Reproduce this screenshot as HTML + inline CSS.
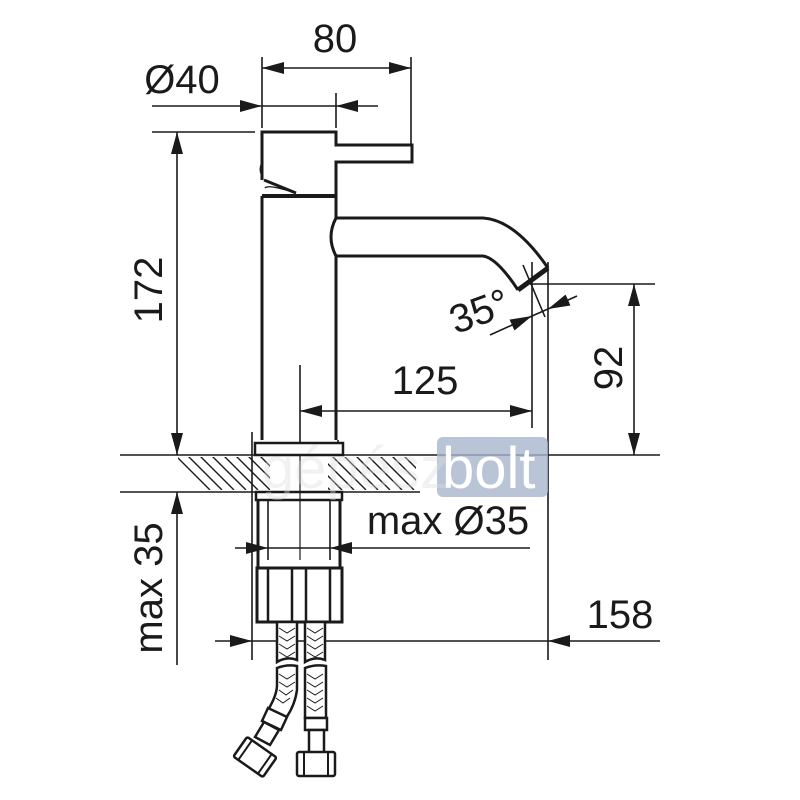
<!DOCTYPE html>
<html><head><meta charset="utf-8"><style>
html,body{margin:0;padding:0;background:#fff}
svg{display:block}
text{font-family:"Liberation Sans",sans-serif;fill:#1a1a1a}
</style></head><body>
<svg width="800" height="800" viewBox="0 0 800 800" xmlns="http://www.w3.org/2000/svg">
<defs>
<clipPath id="hc"><rect x="178" y="457" width="92" height="33"/><rect x="328" y="457" width="88" height="33"/></clipPath>
<marker id="a" viewBox="0 0 22 12" refX="22" refY="6" markerWidth="22" markerHeight="12" markerUnits="userSpaceOnUse" orient="auto-start-reverse"><path d="M0,0 L22,6 L0,12 z" fill="#1a1a1a"/></marker>
</defs>
<g stroke="#1a1a1a" fill="none" stroke-width="1.6">
<g clip-path="url(#hc)" stroke-width="1.4">
<path d="M160,440 l50,50 M172,440 l50,50 M184,440 l50,50 M196,440 l50,50 M208,440 l50,50 M220,440 l50,50 M232,440 l50,50 M244,440 l50,50 M256,440 l50,50 M268,440 l50,50 M280,440 l50,50 M292,440 l50,50 M304,440 l50,50 M316,440 l50,50 M328,440 l50,50 M340,440 l50,50 M352,440 l50,50 M364,440 l50,50 M376,440 l50,50 M388,440 l50,50 M400,440 l50,50"/>
</g>
<path d="M120,455 H660 M120,492 H420"/>
<path d="M262,57 V128 M411,57 V145 M336,93 V128 M152,132 H255 M300,365 V450 M532,262 V428 M548,262 V660 M530,284 H655 M252,432 V660 M338,440 V450"/>
<path d="M262,68 H411" marker-start="url(#a)" marker-end="url(#a)"/>
<path d="M152,106 H262" marker-end="url(#a)"/><path d="M378,106 H336" marker-end="url(#a)"/><path d="M262,106 H336"/>
<path d="M177,132 V455" marker-start="url(#a)" marker-end="url(#a)"/>
<path d="M177,665 V492" marker-end="url(#a)"/>
<path d="M300,411 H532" marker-start="url(#a)" marker-end="url(#a)"/>
<path d="M634,284 V455" marker-start="url(#a)" marker-end="url(#a)"/>
<path d="M490,335 L532,316" marker-end="url(#a)"/><path d="M577,296 L548,309" marker-end="url(#a)"/><path d="M532,316 L548,309"/>
<path d="M523,265 L545,317"/>
<path d="M235,548 H268" marker-end="url(#a)"/><path d="M530,548 H330" marker-end="url(#a)"/><path d="M268,548 H330"/>
<path d="M268,500 V560 M330,500 V560"/>
<path d="M215,641 H252" marker-end="url(#a)"/><path d="M660,641 H548" marker-end="url(#a)"/><path d="M252,641 H548"/>
</g>
<g stroke="#1a1a1a" fill="none" stroke-width="3">
<path d="M262,196 V440 M336,196 V218 M336,256 V440"/>
<path d="M262,180 V132 H336 V145 H412 V162 H336 V196"/>
<path d="M264,180 L296,193"/>
<path d="M265,188 Q268,184 296,193" stroke-width="1.5"/>
<path d="M262,196 H336" stroke-width="4"/>
<path d="M262,175 Q259,170 262,163" stroke-width="2"/>
<path d="M336,218 H483 Q515,220 548,268 M336,256 H483 Q497,258 518,290"/>
<path d="M518,290 L548,268" stroke-width="5"/>
<path d="M336,218 Q326,237 336,256"/>
<rect x="255" y="443" width="88" height="12" stroke-width="2.5" fill="#fff"/>
<rect x="256" y="492" width="86" height="8" stroke-width="2.5" fill="#fff"/>
<path d="M258,500 V567 M340,500 V567"/>
<rect x="257" y="568" width="85" height="54" stroke-width="3"/>
<path d="M268,568 V622 M292,568 V622 M306,568 V622 M330,568 V622" stroke-width="2.5"/>
</g>
<path d="M300,455 V560" stroke="#1a1a1a" stroke-width="1.2"/>
<g stroke="#1a1a1a" stroke-width="2.5" fill="#fff">
<path d="M277,622 H297 V660 Q287,656 277,662 Z"/>
<path d="M305,622 H325 V660 Q315,656 305,662 Z"/>
<path d="M277,668 Q287,664 297,666 V690 Q295,705 286,718 L268,710 Q277,695 277,685 Z"/>
<path d="M305,668 Q315,664 326,666 V718 H305 Z"/>
<path d="M268,708 L287,717 L281,730 L262,721 Z"/>
<path d="M264,722 L279,730 L270,745 L255,737 Z"/>
<g transform="translate(255,757) rotate(35)"><rect x="-18" y="-12" width="36" height="24" rx="2"/><path d="M-12,-12 V12 M12,-12 V12" stroke-width="2"/></g>
<rect x="305" y="718" width="22" height="12"/>
<rect x="309" y="730" width="15" height="23"/>
<rect x="297" y="752" width="38" height="24" rx="2"/>
<path d="M304,752 V776 M328,752 V776" stroke-width="2"/>
</g>
<g stroke="#1a1a1a" stroke-width="1" fill="none">
<path d="M279,628 l8,5 l8,-5 M279,636 l8,5 l8,-5 M279,644 l8,5 l8,-5 M279,652 l8,5 l8,-5 M307,628 l8,5 l8,-5 M307,636 l8,5 l8,-5 M307,644 l8,5 l8,-5 M307,652 l8,5 l8,-5"/>
<path d="M279,674 l8,5 l8,-5 M279,682 l8,5 l8,-5 M279,690 l7,5 l7,-5 M276,698 l7,5 l7,-5 M307,674 l8,5 l8,-5 M307,682 l8,5 l8,-5 M307,690 l8,5 l8,-5 M307,698 l8,5 l8,-5 M307,706 l8,5 l8,-5"/>
</g>
<rect x="437" y="437" width="111" height="60" rx="6" fill="#a8b6cc" opacity="0.8"/>
<text x="442" y="488" font-size="58" style="fill:#fff">bolt</text>
<text x="262" y="488" font-size="58" style="fill:#ddd" opacity="0.4">gépész</text>
<text x="335" y="52" font-size="40" text-anchor="middle">80</text>
<text x="182" y="93" font-size="40" text-anchor="middle">Ø40</text>
<text x="0" y="0" font-size="40" text-anchor="middle" transform="translate(162,290) rotate(-90)">172</text>
<text x="425" y="394" font-size="40" text-anchor="middle">125</text>
<text x="0" y="0" font-size="40" text-anchor="middle" transform="translate(622,368) rotate(-90)">92</text>
<text x="0" y="0" font-size="40" text-anchor="middle" transform="translate(484,324) rotate(-20)">35°</text>
<text x="448" y="534" font-size="40" text-anchor="middle">max Ø35</text>
<text x="620" y="628" font-size="40" text-anchor="middle">158</text>
<text x="0" y="0" font-size="40" text-anchor="middle" transform="translate(162,588) rotate(-90)">max 35</text>
</svg>
</body></html>
